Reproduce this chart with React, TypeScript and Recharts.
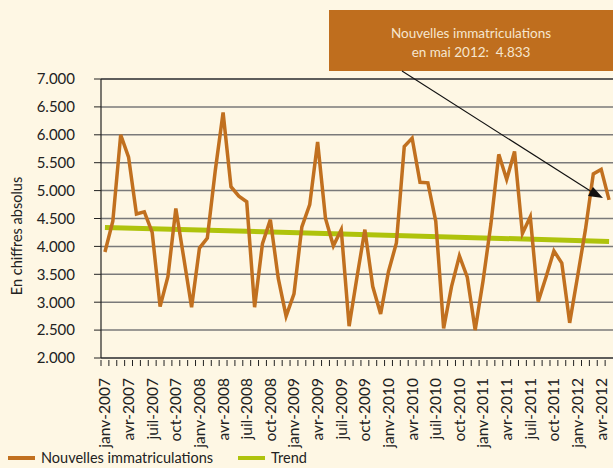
import React from 'react';
import {
  LineChart,
  Line,
  XAxis,
  YAxis,
  CartesianGrid,
  ReferenceLine,
} from 'recharts';

const months = ['janv', 'févr', 'mars', 'avr', 'mai', 'juin', 'juil', 'août', 'sept', 'oct', 'nov', 'déc'];
const years = [2007, 2008, 2009, 2010, 2011, 2012];

const registrations = [
  3900, 4450, 6000, 5600, 4580, 4620, 4250, 2920, 3460, 4680, 3800, 2910,
  3970, 4150, 5350, 6400, 5070, 4900, 4800, 2910, 4050, 4480, 3430, 2750,
  3150, 4350, 4750, 5870, 4500, 4010, 4300, 2570, 3450, 4300, 3280, 2790,
  3550, 4060, 5790, 5940, 5150, 5140, 4450, 2530, 3280, 3830, 3450, 2500,
  3380, 4400, 5650, 5200, 5700, 4230, 4530, 3010, 3450, 3920, 3700, 2630,
  3460, 4300, 5300, 5380, 4833,
];

// trend line end points (first and last month)
const trendStart = 4340;
const trendEnd = 4090;

const yTicks = [2000, 2500, 3000, 3500, 4000, 4500, 5000, 5500, 6000, 6500, 7000];

const categories = years
  .flatMap((y) => months.map((m) => `${m}-${y}`))
  .slice(0, registrations.length);

const data = categories.map((date, i) => ({
  date,
  value: registrations[i],
  trend: i === 0 ? trendStart : i === registrations.length - 1 ? trendEnd : null,
}));

const ORANGE = '#C1701F';
const GREEN = '#AFC30C';
const BG = '#FEF7E4';
const FONT = 'Lato, "Open Sans", sans-serif';

const fmt = (v: number) =>
  `${Math.floor(v / 1000)}.${String(v % 1000).padStart(3, '0')}`;

const BAND = 511 / 65;

const MonthTick = (props: any) => {
  const { x, y, payload, index } = props;
  const showLabel = index % 3 === 0;
  return (
    <g>
      <line x1={x - BAND / 2} y1={y - 6} x2={x - BAND / 2} y2={y} stroke="#222" strokeWidth={1} />
      {showLabel && (
        <text
          x={x}
          y={y + 12}
          dy="0.35em"
          transform={`rotate(-90, ${x}, ${y + 12})`}
          textAnchor="end"
          fontSize={15.5}
          fontFamily={FONT}
          fill="#222"
        >
          {payload.value}
        </text>
      )}
    </g>
  );
};

const App = () => {
  return (
    <div
      style={{
        position: 'fixed',
        left: 0,
        top: 0,
        width: 613,
        height: 468,
        background: BG,
        overflow: 'hidden',
        fontFamily: FONT,
      }}
    >
      <LineChart
        width={613}
        height={468}
        data={data}
        margin={{ top: 79, right: 0, left: 0, bottom: 0 }}
      >
        <CartesianGrid vertical={false} stroke="#7a7a7a" strokeWidth={1.5} />
        <XAxis
          dataKey="date"
          scale="band"
          interval={0}
          height={110}
          tick={<MonthTick />}
          tickLine={false}
          axisLine={{ stroke: '#222', strokeWidth: 1.2 }}
        />
        <YAxis
          width={101}
          domain={[2000, 7000]}
          ticks={yTicks}
          tickFormatter={fmt}
          tickSize={7}
          tickMargin={19}
          tick={{ fill: '#222', fontSize: 15, fontFamily: FONT }}
          tickLine={{ stroke: '#222' }}
          axisLine={{ stroke: '#222', strokeWidth: 1.2 }}
        />
        <ReferenceLine y={7000} stroke="#222" strokeWidth={1.2} />
        <Line
          dataKey="trend"
          stroke={GREEN}
          strokeWidth={5}
          dot={false}
          connectNulls
          isAnimationActive={false}
        />
        <Line
          dataKey="value"
          stroke={ORANGE}
          strokeWidth={3.5}
          dot={false}
          strokeLinejoin="miter"
          isAnimationActive={false}
        />
      </LineChart>

      <svg
        width={613}
        height={468}
        style={{ position: 'absolute', left: 0, top: 0, pointerEvents: 'none' }}
      >
        <text
          x={17}
          y={236}
          dy="0.35em"
          transform="rotate(-90, 17, 236)"
          textAnchor="middle"
          fontSize={14.5}
          fontFamily={FONT}
          fill="#222"
        >
          En chiffres absolus
        </text>
        <rect x={329} y={10} width={284} height={61} fill="#BF6E1E" />
        <text x={471} y={38} textAnchor="middle" fontSize={13.5} fontFamily={FONT} fill="#F6E6CF">
          Nouvelles immatriculations
        </text>
        <text x={471} y={57} textAnchor="middle" fontSize={13.5} fontFamily={FONT} fill="#F6E6CF">
          {'en mai 2012:\u00a0 4.833'}
        </text>
        <line x1={402} y1={71} x2={592} y2={192} stroke="#111" strokeWidth={1.1} />
        <polygon points="603,198 588,196 593,187" fill="#111" />
      </svg>

      <div
        style={{
          position: 'absolute',
          left: 8,
          top: 449,
          display: 'flex',
          alignItems: 'center',
          fontSize: 14.5,
          color: '#222',
        }}
      >
        <span style={{ width: 27, height: 4, background: ORANGE, marginRight: 6 }} />
        <span style={{ marginRight: 25 }}>Nouvelles immatriculations</span>
        <span style={{ width: 27, height: 4, background: GREEN, marginRight: 6 }} />
        <span>Trend</span>
      </div>
    </div>
  );
};

export default App;
